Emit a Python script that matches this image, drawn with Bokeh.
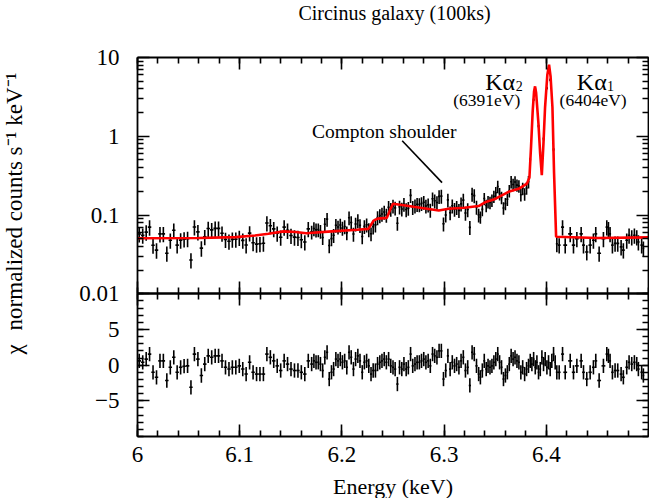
import numpy as np
from bokeh.plotting import figure
from bokeh.models import (Range1d, LinearAxis, LogAxis, FixedTicker, Label, Arrow,
                          ColumnDataSource, CustomJSTickFormatter, LinearScale)
from bokeh.embed import file_html
from bokeh.resources import INLINE

# ------------------------------------------------------------------ data
# segment 1: 6.00 - 6.17 keV continuum
energy_1 = [6.0017, 6.0051, 6.0085, 6.0118, 6.0152, 6.0186, 6.0220, 6.0253, 6.0287, 6.0321,
            6.0355, 6.0388, 6.0422, 6.0456, 6.0490, 6.0523, 6.0557, 6.0591, 6.0625, 6.0658,
            6.0692, 6.0726, 6.0760, 6.0793, 6.0827, 6.0861, 6.0895, 6.0928, 6.0962, 6.0996,
            6.1030, 6.1063, 6.1097, 6.1131, 6.1165, 6.1198, 6.1232, 6.1266, 6.1300, 6.1333,
            6.1367, 6.1401, 6.1435, 6.1468, 6.1502, 6.1536, 6.1570, 6.1603, 6.1637, 6.1671]
flux_1 = [0.0575, 0.0552, 0.0606, 0.0702, 0.0414, 0.0358, 0.0576, 0.0577, 0.0327, 0.0479,
          0.0641, 0.0415, 0.0480, 0.0495, 0.0501, 0.0269, 0.0705, 0.0611, 0.0380, 0.0530,
          0.0674, 0.0648, 0.0677, 0.0678, 0.0588, 0.0489, 0.0465, 0.0491, 0.0493, 0.0519,
          0.0477, 0.0417, 0.0590, 0.0445, 0.0427, 0.0432, 0.0439, 0.0793, 0.0731, 0.0668,
          0.0588, 0.0522, 0.0702, 0.0638, 0.0549, 0.0524, 0.0518, 0.0486, 0.0455, 0.0668]
chi_1 = [0.6, 0.4, 0.85, 1.55, -1.0, -1.7, 0.6, 0.6, -2.15, -0.3,
         1.1, -1.0, -0.3, -0.15, -0.1, -3.1, 1.55, 0.85, -1.45, 0.15,
         1.3, 1.1, 1.3, 1.3, 0.6, -0.3, -0.55, -0.3, -0.3, -0.1,
         -0.55, -1.25, 0.4, -1.0, -1.25, -1.25, -1.25, 1.55, 1.1, 0.6,
         -0.1, -0.75, 0.6, 0.15, -0.55, -0.75, -0.75, -1.0, -1.25, 0.6]

# segment 2: 6.17 - 6.33 keV (Compton shoulder)
energy_2 = [6.1704, 6.1726, 6.1747, 6.1769, 6.1790, 6.1812, 6.1833, 6.1855, 6.1876, 6.1898,
            6.1919, 6.1941, 6.1962, 6.1984, 6.2005, 6.2027, 6.2048, 6.2070, 6.2091, 6.2113,
            6.2134, 6.2156, 6.2177, 6.2199, 6.2220, 6.2242, 6.2263, 6.2285, 6.2306, 6.2328,
            6.2349, 6.2371, 6.2392, 6.2414, 6.2435, 6.2457, 6.2478, 6.2500, 6.2521, 6.2543,
            6.2564, 6.2586, 6.2607, 6.2629, 6.2650, 6.2672, 6.2693, 6.2715, 6.2736, 6.2758,
            6.2779, 6.2801, 6.2822, 6.2844, 6.2865, 6.2887, 6.2908, 6.2930, 6.2951, 6.2973,
            6.2994, 6.3016, 6.3037, 6.3059, 6.3080, 6.3102, 6.3123, 6.3145, 6.3166, 6.3188,
            6.3209, 6.3231, 6.3252, 6.3274, 6.3295, 6.3317, 6.3338]
flux_2 = [0.0611, 0.0674, 0.0650, 0.0653, 0.0623, 0.0519, 0.0764, 0.0887, 0.0410, 0.0502,
          0.0553, 0.0742, 0.0706, 0.0747, 0.0683, 0.0714, 0.0596, 0.0925, 0.0804, 0.0574,
          0.0771, 0.0851, 0.0739, 0.0533, 0.0717, 0.0752, 0.0655, 0.0579, 0.0710, 0.0749,
          0.0929, 0.0984, 0.1030, 0.1092, 0.1000, 0.1253, 0.1186, 0.1307, 0.1231, 0.0788,
          0.1269, 0.1195, 0.1373, 0.1173, 0.1222, 0.1779, 0.1254, 0.1311, 0.1370, 0.1359,
          0.1404, 0.1455, 0.1304, 0.1347, 0.1156, 0.1613, 0.1518, 0.1444, 0.1725, 0.1740,
          0.0774, 0.1002, 0.1558, 0.1070, 0.1310, 0.1186, 0.1254, 0.1147, 0.1387, 0.1547,
          0.1061, 0.1175, 0.0698, 0.1844, 0.1765, 0.1264, 0.1004]
chi_2 = [0.15, 0.6, 0.4, 0.4, 0.15, -0.75, 1.1, 1.8, -1.95, -1.0,
         -0.55, 0.85, 0.6, 0.85, 0.4, 0.6, -0.3, 1.8, 1.1, -0.55,
         0.85, 1.3, 0.6, -1.0, 0.4, 0.6, -0.1, -1.25, -0.75, -0.75,
         0.15, 0.4, 0.6, 0.85, 0.4, 0.85, -0.1, -0.3, -0.55, -2.65,
         -0.3, -0.55, 0.15, -0.55, -0.3, 1.55, -0.1, 0.15, 0.4, 0.4,
         0.6, 0.85, 0.4, 0.6, -0.1, 1.55, 1.3, 1.1, 2.0, 2.0,
         -1.95, -0.75, 1.3, -0.55, 0.4, -0.1, 0.15, -0.3, 0.6, 1.1,
         -0.75, -0.3, -2.85, 1.8, 1.55, -0.1, -1.25]

# segment 3: 6.335 - 6.383 keV rising wing
energy_3 = [6.3355, 6.3374, 6.3393, 6.3412, 6.3430, 6.3449, 6.3468, 6.3487, 6.3506, 6.3525,
            6.3543, 6.3562, 6.3581, 6.3600, 6.3619, 6.3638, 6.3656, 6.3675, 6.3694, 6.3713,
            6.3732, 6.3751, 6.3769, 6.3788, 6.3807, 6.3826]
flux_3 = [0.0942, 0.1181, 0.1619, 0.1320, 0.1480, 0.1448, 0.1539, 0.1728, 0.1921, 0.2303,
          0.1870, 0.1673, 0.1227, 0.1399, 0.1585, 0.2043, 0.2644, 0.2446, 0.2625, 0.2400,
          0.2337, 0.1813, 0.2181, 0.1853, 0.2203, 0.2646]
chi_3 = [-1.7, -0.75, 0.6, -0.55, -0.1, -0.3, -0.1, 0.4, 0.85, 1.55,
         0.4, -0.3, -1.95, -1.45, -1.0, 0.15, 1.3, 0.85, 1.1, 0.6,
         0.4, -1.0, -0.3, -1.25, -0.55, -0.1]

# segment 4: Fe K-alpha doublet
energy_4 = [6.3843, 6.3859, 6.3876, 6.3892, 6.3908, 6.3924, 6.3941, 6.3957, 6.3973, 6.3989,
            6.4006, 6.4022, 6.4038, 6.4054, 6.4071, 6.4087, 6.4103]
flux_4 = [0.507, 1.30, 2.91, 3.96, 2.43, 1.35, 0.62, 0.351, 0.928, 2.47,
          4.09, 7.06, 5.19, 3.04, 0.678, 0.125, 0.0431]
chi_4 = [0.6, 0.15, 0.85, -0.3, 0.4, -1.0, -0.55, 1.1, 0.15, 0.85,
         -0.3, 0.4, -0.55, 0.6, 1.55, 0.4, -1.0]
err_frac_4 = [0.05, 0.04, 0.04, 0.04, 0.04, 0.04, 0.05, 0.06, 0.05, 0.04,
              0.04, 0.04, 0.04, 0.04, 0.05, 0.15, 0.22]

# segment 5: 6.41 - 6.50 keV continuum
energy_5 = [6.4126, 6.4159, 6.4185, 6.4234, 6.4266, 6.4299, 6.4341, 6.4364, 6.4396, 6.4429,
            6.4461, 6.4484, 6.4517, 6.4559, 6.4592, 6.4608, 6.4624, 6.4647, 6.4673, 6.4699,
            6.4732, 6.4754, 6.4787, 6.4810, 6.4836, 6.4862, 6.4885, 6.4901, 6.4933, 6.4950]
flux_5 = [0.0415, 0.0703, 0.0415, 0.0577, 0.0415, 0.0500, 0.0577, 0.0415, 0.0340, 0.0415,
          0.0479, 0.0577, 0.0327, 0.0500, 0.0703, 0.0668, 0.0577, 0.0415, 0.0437, 0.0437,
          0.0394, 0.0359, 0.0479, 0.0554, 0.0526, 0.0554, 0.0526, 0.0455, 0.0415, 0.0377]
chi_5 = [-1.0, 1.55, -1.0, 0.6, -1.0, -0.1, 0.6, -1.0, -1.95, -1.0,
         -0.3, 0.6, -2.15, -0.1, 1.55, 1.3, 0.6, -1.0, -0.75, -0.75,
         -1.25, -1.7, -0.3, 0.4, 0.15, 0.4, 0.15, -0.55, -1.0, -1.45]

# best-fit model (red curve)
model_energy = [6.000, 6.060, 6.096, 6.115, 6.128, 6.143, 6.155, 6.165, 6.190, 6.215,
                6.226, 6.231, 6.235, 6.244, 6.2476, 6.250, 6.262, 6.280, 6.2948, 6.3045,
                6.320, 6.3338, 6.340, 6.350, 6.363, 6.373, 6.381, 6.3835, 6.3851, 6.3867,
                6.3880, 6.3890, 6.3900, 6.3923, 6.3940, 6.3956, 6.3972, 6.3988, 6.4010, 6.4027,
                6.4042, 6.4060, 6.4076, 6.4096, 6.450, 6.500]
model_flux = [0.0508, 0.0512, 0.0524, 0.0550, 0.0578, 0.0620, 0.0610, 0.0588, 0.0620, 0.0650,
              0.0668, 0.0850, 0.0900, 0.0920, 0.1200, 0.1390, 0.1320, 0.1220, 0.1140, 0.1200,
              0.1240, 0.1300, 0.1450, 0.1600, 0.1970, 0.2150, 0.2500, 0.3000, 0.75, 2.10,
              3.70, 4.30, 3.60, 1.46, 0.60, 0.32, 0.80, 2.35, 6.00, 8.10,
              5.70, 2.35, 0.34, 0.053, 0.051, 0.052]

x_ticks = [6.0, 6.1, 6.2, 6.3, 6.4]
flux_ticks = [0.01, 0.1, 1, 10]
chi_ticks = [-5, 0, 5]

# ------------------------------------------------------------------ build
E = np.array(energy_1 + energy_2 + energy_3 + energy_4 + energy_5)
F = np.array(flux_1 + flux_2 + flux_3 + flux_4 + flux_5)
C = np.array(chi_1 + chi_2 + chi_3 + chi_4 + chi_5)
frac = np.array([0.22] * len(energy_1) + [0.20] * len(energy_2) + [0.18] * len(energy_3)
                + err_frac_4 + [0.22] * len(energy_5))
d = np.diff(E)
hw = np.empty_like(E)
hw[1:-1] = (d[:-1] + d[1:]) / 4.0
hw[0] = d[0] / 2.0
hw[-1] = d[-1] / 2.0

src = ColumnDataSource(dict(x=E, xl=E - hw, xh=E + hw, f=F, fl=F * (1 - frac), fh=F * (1 + frac),
                            c=C, cl=C - 1, ch=C + 1))

FONT = "Liberation Serif"
TICK_FS = "23px"

# ------------------------------------------------------------------ geometry (pixels)
W, H = 649, 498
X0_PX, X1_PX = 137.0, 648.0      # 6.0 keV and 6.5 keV
Y10_PX, Y001_PX, YBOT_PX = 57.0, 293.3, 436.0   # flux 10, flux 0.01 (=chi 10), chi -10
KEV_PX = (X1_PX - X0_PX) / 0.5
DEC = (Y001_PX - Y10_PX) / 3.0
CHI_PX = (YBOT_PX - Y001_PX) / 20.0

x_range = Range1d(6.0 - X0_PX / KEV_PX, 6.5 + (W - X1_PX) / KEV_PX)
y_range = Range1d(10 ** (-2 - (H - Y001_PX) / DEC), 10 ** (1 + Y10_PX / DEC))
chi_range = Range1d(-10 - (H - YBOT_PX) / CHI_PX, 10 + Y001_PX / CHI_PX)


def px_x(px):           # page pixel -> energy (for text placement only)
    return 6.0 + (px - X0_PX) / KEV_PX


def px_y(py):           # page pixel -> flux (for text placement only)
    return 10 ** (1 - (py - Y10_PX) / DEC)


x_ticker = FixedTicker(ticks=x_ticks, minor_ticks=[round(6 + 0.02 * i, 2) for i in range(26)])
log_ticker = FixedTicker(ticks=flux_ticks,
                         minor_ticks=[m * 10.0 ** e for e in (-2, -1, 0) for m in range(2, 10)])
chi_ticker = FixedTicker(ticks=chi_ticks, minor_ticks=list(range(-10, 11)))
blank_fmt = CustomJSTickFormatter(code="return '';")


def style(ax, labelled):
    ax.major_tick_in = 12
    ax.major_tick_out = 0
    ax.minor_tick_in = 6
    ax.minor_tick_out = 0
    ax.axis_line_width = 1.8
    ax.major_tick_line_width = 1.6
    ax.minor_tick_line_width = 1.6
    ax.axis_line_color = "black"
    ax.major_tick_line_color = "black"
    ax.minor_tick_line_color = "black"
    if labelled:
        ax.major_label_text_font = FONT
        ax.major_label_text_font_size = TICK_FS
        ax.major_label_text_color = "black"
    else:
        ax.formatter = blank_fmt
        ax.major_label_text_font_size = "0px"
        ax.major_label_standoff = 0
        ax.axis_label = None
    return ax


p = figure(width=W, height=H, x_range=x_range, y_range=y_range,
           y_axis_type="log", x_axis_location=None, y_axis_location=None,
           output_backend="svg", toolbar_location=None, min_border=0)
p.extra_y_ranges = {"chi": chi_range}
p.extra_y_scales = {"chi": LinearScale()}
p.grid.visible = False
p.outline_line_color = None
p.background_fill_color = "white"
p.border_fill_color = "white"

# y axes, pinned to the panel edges
ly = style(LogAxis(ticker=log_ticker, bounds=(0.01, 10), fixed_location=6.0,
                   formatter=CustomJSTickFormatter(code="return String(tick);")), True)
ly.major_label_standoff = 18
p.add_layout(ly, "left")
cy = style(LinearAxis(ticker=chi_ticker, y_range_name="chi", bounds=(-10, 10), fixed_location=6.0,
                      formatter=CustomJSTickFormatter(
                          code="return tick < 0 ? '\u2212' + String(-tick) : String(tick);")), True)
cy.major_label_standoff = 18
p.add_layout(cy, "left")
p.add_layout(style(LogAxis(ticker=log_ticker, bounds=(0.01, 10), fixed_location=6.5), False), "right")
p.add_layout(style(LinearAxis(ticker=chi_ticker, y_range_name="chi", bounds=(-10, 10),
                              fixed_location=6.5), False), "right")

# x axes: top edge, panel boundary (both directions), bottom edge
p.add_layout(style(LinearAxis(ticker=x_ticker, bounds=(6.0, 6.5), fixed_location=10), False), "above")
p.add_layout(style(LinearAxis(ticker=x_ticker, bounds=(6.0, 6.5), fixed_location=0.01), False), "below")
p.add_layout(style(LinearAxis(ticker=x_ticker, bounds=(6.0, 6.5), fixed_location=0.01), False), "above")
bx = style(LinearAxis(ticker=x_ticker, bounds=(6.0, 6.5), y_range_name="chi", fixed_location=-10,
                      axis_label="Energy (keV)",
                      formatter=CustomJSTickFormatter(
                          code="return String(Math.round(tick * 10) / 10);")), True)
bx.major_label_standoff = 10
bx.axis_label_standoff = 9
bx.axis_label_text_font = FONT
bx.axis_label_text_font_size = "22px"
bx.axis_label_text_font_style = "normal"
bx.axis_label_text_color = "black"
p.add_layout(bx, "below")

# data and model
p.segment("xl", "f", "xh", "f", source=src, line_color="black", line_width=1.6)
p.segment("x", "fl", "x", "fh", source=src, line_color="black", line_width=1.6)
p.line(model_energy, model_flux, line_color="#ff0000", line_width=2.6)
p.segment("xl", "c", "xh", "c", source=src, line_color="black", line_width=1.6, y_range_name="chi")
p.segment("x", "cl", "x", "ch", source=src, line_color="black", line_width=1.6, y_range_name="chi")

# texts
ann = dict(text_font=FONT, text_color="black")
p.add_layout(Label(x=px_x(394), y=px_y(12), text="Circinus galaxy (100ks)",
                   text_align="center", text_baseline="middle", text_font_size="20px", **ann))
p.add_layout(Label(x=px_x(14), y=px_y(201), angle=np.pi / 2,
                   text="normalized counts s\u207b\u00b9 keV\u207b\u00b9",
                   text_align="center", text_baseline="middle", text_font_size="23px", **ann))
p.add_layout(Label(x=px_x(14), y=px_y(349), angle=np.pi / 2, text="\u03c7",
                   text_align="center", text_baseline="middle", text_font_size="23px", **ann))
p.add_layout(Label(x=6.3403, y=4.82, text="K\u03b1", text_align="left",
                   text_baseline="alphabetic", text_font_size="24px", **ann))
p.add_layout(Label(x=6.3701, y=4.30, text="2", text_align="left",
                   text_baseline="alphabetic", text_font_size="14px", **ann))
p.add_layout(Label(x=6.3418, y=2.91, text="(6391eV)", text_align="center",
                   text_baseline="middle", text_font_size="17.5px", **ann))
p.add_layout(Label(x=6.4299, y=4.82, text="K\u03b1", text_align="left",
                   text_baseline="alphabetic", text_font_size="24px", **ann))
p.add_layout(Label(x=6.4595, y=4.30, text="1", text_align="left",
                   text_baseline="alphabetic", text_font_size="14px", **ann))
p.add_layout(Label(x=6.4458, y=2.91, text="(6404eV)", text_align="center",
                   text_baseline="middle", text_font_size="17.5px", **ann))
p.add_layout(Label(x=6.2414, y=1.14, text="Compton shoulder", text_align="center",
                   text_baseline="middle", text_font_size="19.5px", **ann))
p.add_layout(Arrow(x_start=6.259, y_start=0.879, x_end=6.298, y_end=0.258, end=None,
                   line_color="black", line_width=1.6))

open("out.html", "w").write(file_html(p, INLINE))
